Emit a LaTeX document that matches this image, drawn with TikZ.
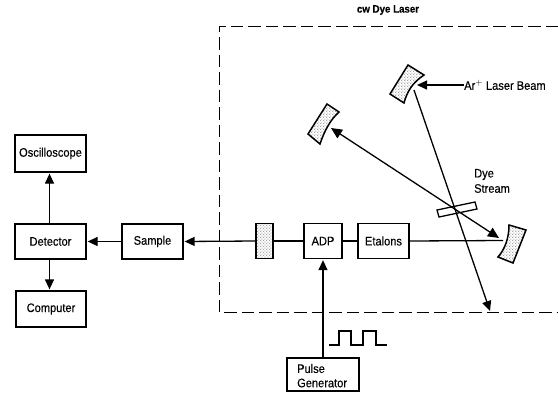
\documentclass[tikz,border=0pt]{standalone}
\usepackage{fontspec}
\setmainfont[FakeStretch=0.9,FakeBold=0.25]{Liberation Sans}
\usetikzlibrary{arrows.meta,patterns}
\pgfdeclarepatternformonly{fine dots}{\pgfqpoint{-1pt}{-1pt}}{\pgfqpoint{2pt}{2pt}}{\pgfqpoint{3pt}{3pt}}{%
  \pgfpathcircle{\pgfqpoint{0pt}{0pt}}{0.5pt}\pgfusepath{fill}%
  \pgfpathcircle{\pgfqpoint{1.5pt}{1.5pt}}{0.5pt}\pgfusepath{fill}}
\tikzset{
  x=1pt,y=-1pt,
  box/.style={draw,line width=1.3pt,inner sep=0pt,align=center,font=\fontsize{12.3}{14}\selectfont},
  lab/.style={inner sep=0pt,align=left,font=\fontsize{12.3}{14}\selectfont},
  beam/.style={line width=1.3pt},
  arr/.style={line width=1.3pt,-{Triangle[length=10pt,width=9pt]},shorten >=1pt},
  darr/.style={line width=1.3pt,{Triangle[length=11pt,width=10pt]}-{Triangle[length=11pt,width=10pt]}},
  optic/.style={draw,line width=1.5pt,line join=miter,pattern=fine dots},
  dashline/.style={line width=1pt,dash pattern=on 12.5pt off 5pt},
}
\begin{document}
\begin{tikzpicture}
\useasboundingbox (0,0) rectangle (558,392);
% dashed enclosure
\draw[dashline] (558,26) -- (219,26) -- (219,312) -- (558,312);
\node[lab,font=\fontsize{10.8}{12}\selectfont\bfseries,anchor=center] (title) at (388,10) {cw Dye Laser};
% boxes
\node[box,minimum width=71pt,minimum height=37pt] (osc) at (50.5,153.5) {Oscilloscope};
\node[box,minimum width=71pt,minimum height=35pt] (det) at (50.5,241.5) {Detector};
\node[box,minimum width=70pt,minimum height=36pt] (comp) at (51,309) {Computer};
\node[box,minimum width=61pt,minimum height=35pt] (samp) at (152.5,241.5) {Sample};
\node[box,minimum width=17pt,minimum height=35pt,pattern=fine dots] (pol) at (264.5,241) {};
\node[box,minimum width=38pt,minimum height=35pt] (adp) at (323,241) {ADP};
\node[box,minimum width=51pt,minimum height=35pt] (etal) at (383.5,241) {Etalons};
\node[box,minimum width=72pt,minimum height=33pt] (pulse) at (323,374.5) {};
\node[lab,anchor=west] (pulset) at (297,368.5) {Pulse};
\node[lab,anchor=west] (pulset2) at (297,383) {Generator};
\node[lab,anchor=west] (ar) at (464,85) {Ar$^{\mathbf{+}}$ Laser Beam};
\node[lab,anchor=west] (dye) at (474,174.5) {Dye};
\node[lab,anchor=west] (stream) at (474,188.5) {Stream};
% mirrors
\draw[optic] (408,65) -- (424,75) .. controls (412,83) and (407,92) .. (404,103) -- (390,94) -- cycle;
\draw[optic] (327,104) -- (339,112) .. controls (330,120) and (324,132) .. (320,144) -- (308,134) -- cycle;
\draw[optic] (509,225) -- (526,230) -- (513,263) -- (498,257) .. controls (505,249) and (509,238) .. (509,225) -- cycle;
% dye stream
\draw[line width=1.3pt,fill=white] (437,210) -- (475,202) -- (477,209) -- (439,217) -- cycle;
% coordinates
\coordinate (ox) at (49.5,0);
\coordinate (mAr) at (417,85);
\coordinate (mTop) at (414,90);
\coordinate (mEnd) at (490,311);
\coordinate (mL) at (331,128);
\coordinate (mR) at (499,238);
\coordinate (bEnd) at (503,240.5);
\coordinate (p0) at (329,345);
\coordinate (p1) at (339,345);
\coordinate (p2) at (339,331);
\coordinate (p3) at (351,331);
\coordinate (p4) at (351,345);
\coordinate (p5) at (363,345);
\coordinate (p6) at (363,331);
\coordinate (p7) at (376,331);
\coordinate (p8) at (376,345);
\coordinate (p9) at (387,345);
% connectors
\draw[arr] (ox |- det.north) -- (ox |- osc.south);
\draw[arr] (ox |- det.south) -- (ox |- comp.north);
\draw[arr] (samp.west) -- (det.east);
\draw[arr] (pol.west) -- (samp.east);
\draw[beam] (pol.east) -- (adp.west);
\draw[beam] (adp.east) -- (etal.west);
\draw[beam] (etal.east) -- (bEnd);
\draw[arr] (pulse.north) -- (adp.south);
\draw[arr,shorten >=0pt] (ar.west) -- (mAr);
\draw[arr,shorten >=0pt] (mTop) -- (mEnd);
\draw[darr] (mL) -- (mR);
\draw[line width=1.1pt] (p0) -- (p1) -- (p2) -- (p3) -- (p4) -- (p5) -- (p6) -- (p7) -- (p8) -- (p9);
\end{tikzpicture}
\end{document}
